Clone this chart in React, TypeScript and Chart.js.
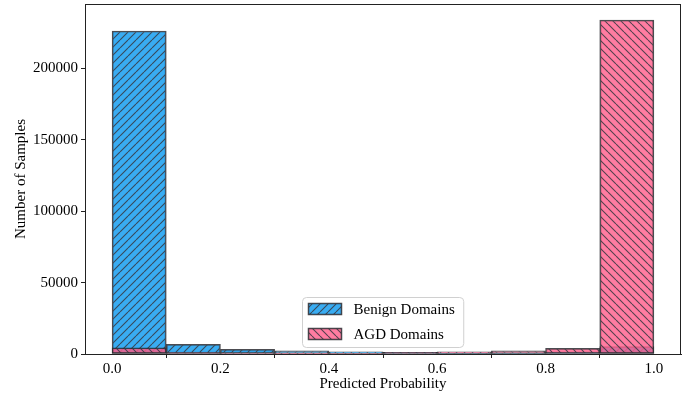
import { useEffect, useRef } from "react";
import { Chart, registerables } from "chart.js";

Chart.register(...registerables);

// Histogram bins (centre of each 0.1-wide bin)
const binCenters = [0.05, 0.15, 0.25, 0.35, 0.45, 0.55, 0.65, 0.75, 0.85, 0.95];
const benignCounts = [226100, 6800, 3200, 2200, 1500, 1100, 900, 800, 1200, 5200];
const agdCounts = [4400, 1000, 700, 600, 700, 1100, 1500, 2200, 4000, 233800];
const seriesLabels = ["Benign Domains", "AGD Domains"];
const xTickValues = [0, 0.2, 0.4, 0.6, 0.8, 1.0];
const yTickValues = [0, 50000, 100000, 150000, 200000];

const SERIF = "'Liberation Serif', 'Times New Roman', serif";
const EDGE = "rgba(45,45,50,0.85)";

function makeHatch(ctx: CanvasRenderingContext2D, fill: string, forward: boolean): CanvasPattern {
  const size = 8;
  const c = document.createElement("canvas");
  c.width = size;
  c.height = size;
  const g = c.getContext("2d")!;
  g.fillStyle = fill;
  g.fillRect(0, 0, size, size);
  g.strokeStyle = "rgba(55,55,65,0.85)";
  g.lineWidth = 1.1;
  g.beginPath();
  for (const o of [-size, 0, size]) {
    if (forward) {
      g.moveTo(o, size);
      g.lineTo(o + size, 0);
    } else {
      g.moveTo(o, 0);
      g.lineTo(o + size, size);
    }
  }
  g.stroke();
  return ctx.createPattern(c, "repeat")!;
}

// Black box around the plotting area
const framePlugin = {
  id: "frame",
  afterDraw(chart: any) {
    const { ctx, chartArea: a } = chart;
    ctx.save();
    ctx.strokeStyle = "#222";
    ctx.lineWidth = 1;
    ctx.strokeRect(a.left + 0.5, a.top + 0.5, a.right - a.left - 1, a.bottom - a.top);
    ctx.restore();
  },
};

// Legend drawn inside the axes, lower centre
const innerLegendPlugin = {
  id: "innerLegend",
  afterDraw(chart: any) {
    const { ctx, chartArea: a } = chart;
    const ds = chart.data.datasets;
    ctx.save();
    ctx.font = `15px ${SERIF}`;
    const textW = Math.max(...ds.map((d: any) => ctx.measureText(d.label).width));
    const swW = 33;
    const swH = 11;
    const rowH = 25;
    const padX = 6;
    const boxW = padX + swW + 12 + textW + 9;
    const boxH = 50;
    const cx = (a.left + a.right) / 2;
    const x0 = Math.round(cx - boxW / 2) + 0.5;
    const y0 = Math.round(a.bottom - 7 - boxH) + 0.5;
    const r = 4;
    ctx.beginPath();
    ctx.moveTo(x0 + r, y0);
    ctx.arcTo(x0 + boxW, y0, x0 + boxW, y0 + boxH, r);
    ctx.arcTo(x0 + boxW, y0 + boxH, x0, y0 + boxH, r);
    ctx.arcTo(x0, y0 + boxH, x0, y0, r);
    ctx.arcTo(x0, y0, x0 + boxW, y0, r);
    ctx.closePath();
    ctx.fillStyle = "rgba(255,255,255,0.8)";
    ctx.fill();
    ctx.strokeStyle = "#d0d0d0";
    ctx.lineWidth = 1;
    ctx.stroke();
    ds.forEach((d: any, i: number) => {
      const sy = y0 + 6 + i * rowH;
      ctx.fillStyle = d.backgroundColor;
      ctx.fillRect(x0 + padX, sy, swW, swH);
      ctx.strokeStyle = EDGE;
      ctx.lineWidth = 1.5;
      ctx.strokeRect(x0 + padX, sy, swW, swH);
      ctx.fillStyle = "#000";
      ctx.textBaseline = "middle";
      ctx.textAlign = "left";
      ctx.fillText(d.label, x0 + padX + swW + 12, sy + swH / 2 + 1);
    });
    ctx.restore();
  },
};

export default function App() {
  const canvasRef = useRef<HTMLCanvasElement | null>(null);

  useEffect(() => {
    const canvas = canvasRef.current!;
    const ctx = canvas.getContext("2d")!;
    const benignFill = makeHatch(ctx, "rgba(30,160,240,0.88)", true);
    const agdFill = makeHatch(ctx, "rgba(255,95,140,0.82)", false);

    const tickFont = { family: SERIF, size: 15 };
    const titleFont = { family: SERIF, size: 15 };

    const chart = new Chart(ctx, {
      type: "bar",
      data: {
        datasets: [
          {
            label: seriesLabels[0],
            data: binCenters.map((x, i) => ({ x, y: benignCounts[i] })),
            backgroundColor: benignFill as any,
            borderColor: EDGE,
            borderWidth: 1.5,
            borderSkipped: false,
            barPercentage: 1,
            categoryPercentage: 1,
            grouped: false,
            order: 1,
          },
          {
            label: seriesLabels[1],
            data: binCenters.map((x, i) => ({ x, y: agdCounts[i] })),
            backgroundColor: agdFill as any,
            borderColor: EDGE,
            borderWidth: 1.5,
            borderSkipped: false,
            barPercentage: 1,
            categoryPercentage: 1,
            grouped: false,
            order: 0,
          },
        ],
      },
      options: {
        animation: false,
        responsive: false,
        devicePixelRatio: 1,
        layout: { padding: { top: 4, right: 7, left: 0, bottom: 0 } },
        plugins: { legend: { display: false }, tooltip: { enabled: false } },
        scales: {
          x: {
            type: "linear",
            min: -0.05,
            max: 1.05,
            offset: false,
            afterFit: (s: any) => {
              s.height = 41;
              s.paddingLeft = 0;
              s.paddingRight = 0;
            },
            afterBuildTicks: (s: any) => {
              s.ticks = xTickValues.map((v) => ({ value: v }));
            },
            ticks: {
              callback: (v: any) => Number(v).toFixed(1),
              font: tickFont,
              color: "#000",
              padding: 2,
              maxRotation: 0,
            },
            grid: { display: true, drawOnChartArea: false, drawTicks: true, tickLength: 4, color: "#222" },
            border: { display: true, color: "#222" },
            title: { display: true, text: "Predicted Probability", font: titleFont, color: "#000", padding: 2 },
          },
          y: {
            type: "linear",
            min: 0,
            max: 245000,
            afterFit: (s: any) => {
              s.width = 85;
              s.paddingTop = 0;
              s.paddingBottom = 0;
            },
            afterBuildTicks: (s: any) => {
              s.ticks = yTickValues.map((v) => ({ value: v }));
            },
            ticks: {
              callback: (v: any) => String(v),
              font: tickFont,
              color: "#000",
              padding: 3,
            },
            grid: { display: true, drawOnChartArea: false, drawTicks: true, tickLength: 4, color: "#222" },
            border: { display: true, color: "#222" },
            title: { display: true, text: "Number of Samples", font: titleFont, color: "#000", padding: 12 },
          },
        },
      },
      plugins: [framePlugin, innerLegendPlugin],
    });

    return () => chart.destroy();
  }, []);

  return (
    <div style={{ position: "fixed", left: 0, top: 0, width: 688, height: 395, background: "#fff" }}>
      <canvas ref={canvasRef} width={688} height={395} style={{ display: "block" }} />
    </div>
  );
}
